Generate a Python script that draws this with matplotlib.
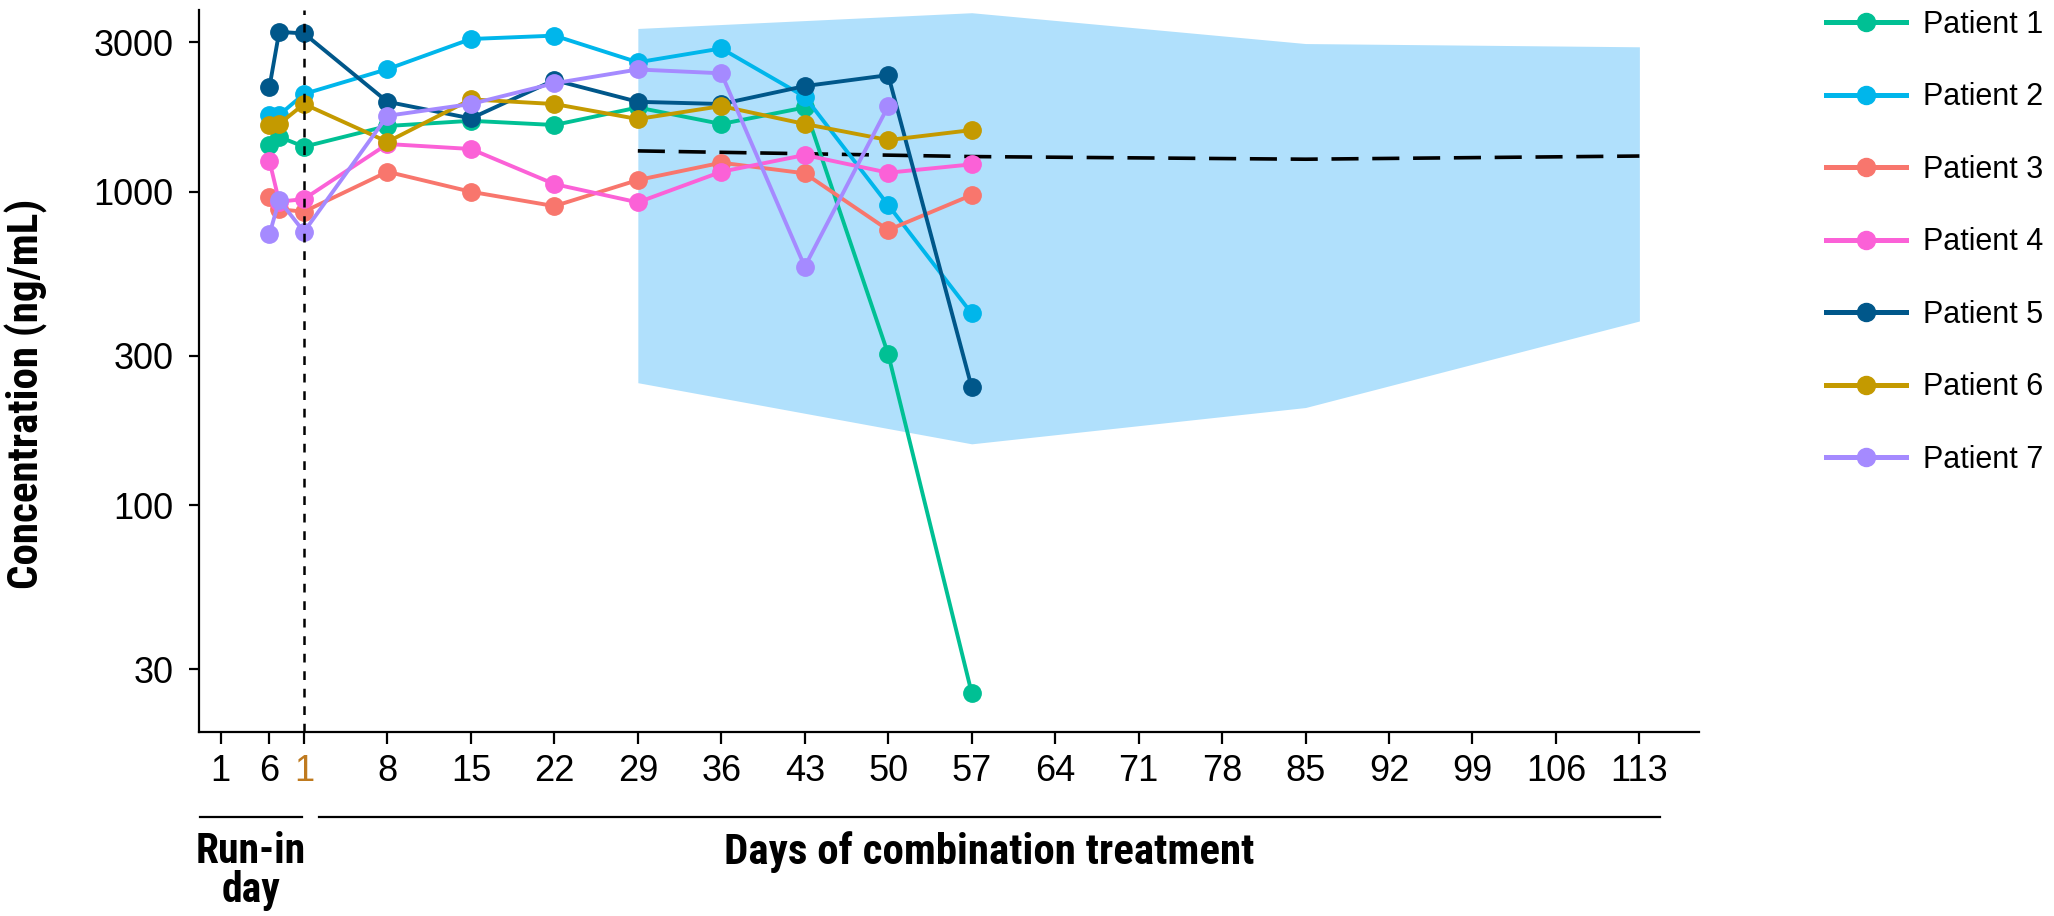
import matplotlib
matplotlib.use("Agg")
import matplotlib.pyplot as plt
import numpy as np
from matplotlib.lines import Line2D
from matplotlib import font_manager
from matplotlib.font_manager import FontProperties

# ---------------- data ----------------
run_in_days = [6, 7]                      # run-in sampling days
combo_days = [1, 8, 15, 22, 29, 36, 43, 50, 57]
patients = ["Patient 1", "Patient 2", "Patient 3", "Patient 4",
            "Patient 5", "Patient 6", "Patient 7"]
colors = ["#00C094", "#00B6EB", "#F8766D", "#FB61D7",
          "#00578A", "#C49A00", "#A58AFF"]

p1 = [1409, 1497, 1392, 1621, 1684, 1633, 1857, 1645, 1857, 303, 25.2]
p2 = [1757, 1757, 2051, 2461, 3071, 3148, 2588, 2865, 2010, 907, 409]
p3 = [964, 879, 864, 1158, 1000, 900, 1090, 1238, 1145, 755, 976]
p4 = [1256, 929, 948, 1420, 1369, 1058, 925, 1158, 1310, 1150, 1223]
p5 = [2153, 3236, 3199, 1936, 1714, 2270, 1936, 1905, 2173, 2355, 238]
p6 = [1633, 1645, 1905, 1443, 1971, 1905, 1706, 1876, 1645, 1462, 1573]
p7 = [731, 940, 745, 1747, 1905, 2219, 2455, 2387, 577, 1876, np.nan]
series = [p1, p2, p3, p4, p5, p6, p7]

band_days = [29, 57, 85, 113]
band_low = [246, 157, 205, 387]
band_high = [3318, 3725, 2970, 2900]
band_median = [1350, 1295, 1270, 1300]

run_in_tick_days = [1, 6]
combo_tick_days = [1, 8, 15, 22, 29, 36, 43, 50, 57, 64, 71, 78, 85, 92, 99, 106, 113]
y_ticks = [30, 100, 300, 1000, 3000]


def run_in_pos(d):
    # run-in days are drawn on a compressed segment left of combination day 1
    return -6 + (np.asarray(d, dtype=float) - 1) * 0.82


# ---------------- fonts ----------------
def _wnum(w):
    if isinstance(w, (int, float)):
        return w
    return {"bold": 700, "heavy": 800, "black": 900, "semibold": 600,
            "demibold": 600, "extra bold": 800, "normal": 400,
            "regular": 400}.get(str(w).lower(), 400)


def pick_condensed_bold():
    prefs = ["Liberation Sans Narrow", "Roboto Condensed", "Open Sans Condensed",
             "Noto Sans", "Open Sans", "Roboto", "Lato", "Inter", "DejaVu Sans"]
    best = None
    for rank, fam in enumerate(prefs):
        for f in font_manager.fontManager.ttflist:
            if not f.name.startswith(fam):
                continue
            fn = f.fname.lower()
            cond = (f.stretch in ("condensed", "semi-condensed", "extra-condensed")
                    or "narrow" in f.name.lower() or "condensed" in f.name.lower()
                    or "narrow" in fn or "condensed" in fn)
            if not cond or f.style != "normal":
                continue
            w = _wnum(f.weight)
            if w < 600:
                continue
            score = rank * 10 + abs(w - 700) / 100
            if "semicondensed" in fn or "extracondensed" in fn or "semi" in str(f.stretch) \
                    or "extra" in str(f.stretch):
                score += 3
            if best is None or score < best[0]:
                best = (score, f.fname)
    return best[1] if best else None


plt.rcParams["font.family"] = ["Liberation Sans", "DejaVu Sans"]
_cf = pick_condensed_bold()
if _cf:
    label_fp = FontProperties(fname=_cf)
else:
    label_fp = FontProperties(family="Liberation Sans", weight="bold")

W, H = 2054, 916
fig = plt.figure(figsize=(W / 100, H / 100), dpi=100)
ax = fig.add_axes([199.3 / W, 1 - 731.7 / H, (1699 - 199.3) / W, (731.7 - 10) / H])

# band
ax.fill_between(band_days, band_low, band_high, color="#B0E0FC", lw=0, zorder=1)
ax.plot(band_days, band_median, color="black", lw=2.6, dashes=(7.5, 3.8), zorder=2)

# patients
x_all = np.concatenate([run_in_pos(run_in_days), np.array(combo_days, dtype=float)])
for name, col, vals in zip(patients, colors, series):
    v = np.array(vals, dtype=float)
    m = ~np.isnan(v)
    ax.plot(x_all[m], v[m], color=col, lw=2.8, marker="o", ms=12.5,
            zorder=3, label=name, solid_capstyle="round")

ax.axvline(1, color="black", lw=1.8, dashes=(3.5, 3.5), zorder=4, ymin=0, ymax=1.0)

ax.set_yscale("log")
ax.set_ylim(18.95, 3800)
ax.set_xlim(-7.78, 118.0)
ax.set_yticks(y_ticks)
ax.set_yticklabels([str(t) for t in y_ticks])
ax.yaxis.set_minor_locator(matplotlib.ticker.NullLocator())

xt = list(run_in_pos(run_in_tick_days)) + combo_tick_days
xl = [str(d) for d in run_in_tick_days] + [str(d) for d in combo_tick_days]
ax.set_xticks(xt)
ax.set_xticklabels(xl)
ax.get_xticklabels()[2].set_color("#BF7A1F")

for s in ["top", "right"]:
    ax.spines[s].set_visible(False)
for s in ["left", "bottom"]:
    ax.spines[s].set_linewidth(1.6)
ax.tick_params(axis="both", width=1.6, color="black")
ax.tick_params(axis="x", length=8.4, pad=8, labelsize=26)
ax.tick_params(axis="y", length=7.5, pad=11, labelsize=26)

# y label
fig.text(26 / W, 1 - 394 / H, "Concentration (ng/mL)", rotation=90, ha="center",
         va="center", fontproperties=label_fp, fontsize=31)

# brackets below axis
yb = 1 - 816.7 / H
fig.add_artist(Line2D([199.8 / W, 302 / W], [yb, yb], color="black", lw=1.6))
fig.add_artist(Line2D([319 / W, 1660 / W], [yb, yb], color="black", lw=1.6))
fig.text(251 / W, 1 - 871 / H, "Run-in\nday", ha="center", va="center",
         fontproperties=label_fp, fontsize=30, linespacing=0.95)
fig.text(989.5 / W, 1 - 851.7 / H, "Days of combination treatment", ha="center",
         va="center", fontproperties=label_fp, fontsize=31)

# legend
handles = [Line2D([0], [0], color=c, lw=3.6, marker="o", ms=13) for c in colors]
fig.legend(handles, patients, loc="upper left", bbox_to_anchor=(1826 / W, 1 - 10 / H),
           bbox_transform=fig.transFigure, frameon=False, fontsize=22,
           handlelength=2.62, handletextpad=0.55, labelspacing=1.39,
           borderpad=0, borderaxespad=0)

fig.savefig("out.png", dpi=100)
